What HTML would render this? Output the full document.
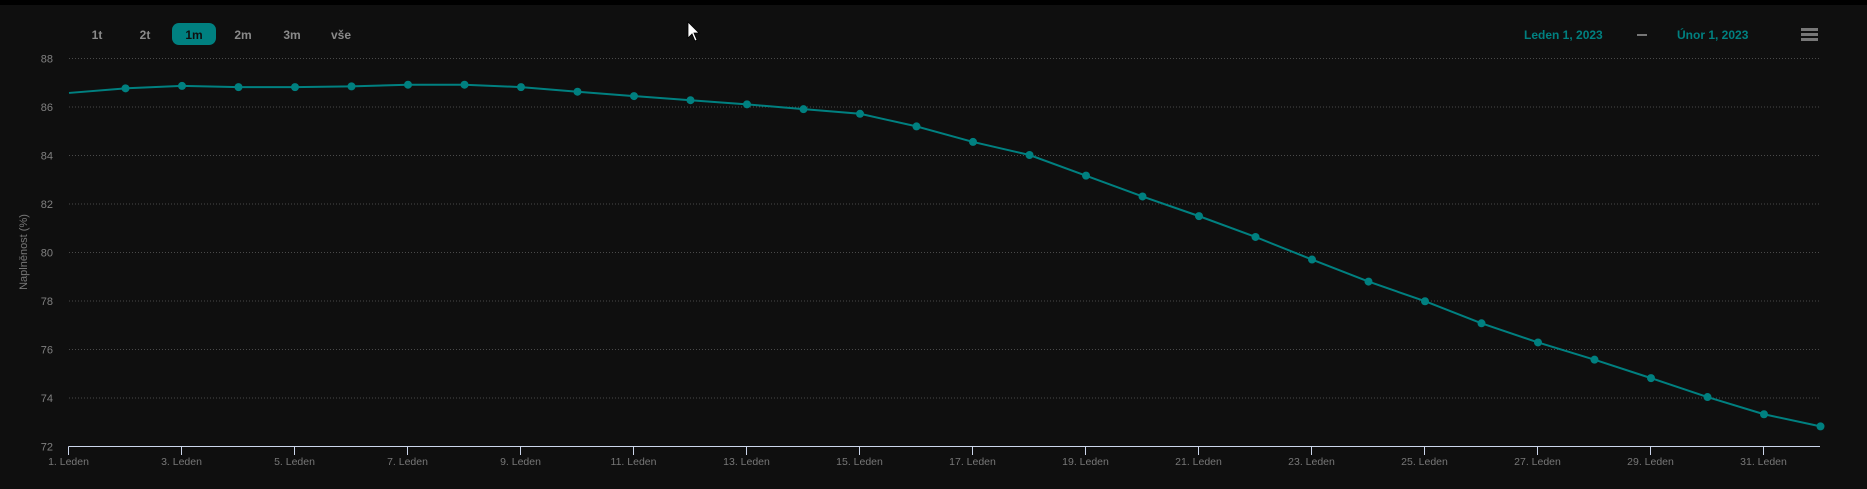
<!DOCTYPE html>
<html><head><meta charset="utf-8"><style>
body{margin:0;background:#0f0f0f;width:1867px;height:489px;overflow:hidden;font-family:"Liberation Sans",sans-serif}
</style></head><body>
<svg id="s" width="1867" height="489" xmlns="http://www.w3.org/2000/svg" style="position:absolute;left:0;top:0">
<rect width="1867" height="489" fill="#0f0f0f"/>
<rect width="1867" height="5" fill="#000"/>
<g font-size="12" font-weight="bold" fill="#8a8a8a" text-anchor="middle" font-family="Liberation Sans,sans-serif">
<text x="97" y="39">1t</text><text x="145" y="39">2t</text>
<rect x="172" y="23" width="44" height="22" rx="7" fill="#008080"/>
<text x="194" y="39" fill="#0f0f0f">1m</text>
<text x="243" y="39">2m</text><text x="292" y="39">3m</text><text x="341" y="39">vše</text>
</g>
<g font-size="12" font-weight="bold" fill="#008080" font-family="Liberation Sans,sans-serif">
<text x="1524" y="39">Leden 1, 2023</text><text x="1677" y="39">Únor 1, 2023</text>
</g>
<line x1="1637" y1="35" x2="1647" y2="35" stroke="#999" stroke-width="1.5"/>
<g fill="#777"><rect x="1801" y="28" width="17" height="3"/><rect x="1801" y="33" width="17" height="3"/><rect x="1801" y="38" width="17" height="3"/></g>
<path d="M688 22 L688 38 L692 34 L695 41 L697 40 L694 33 L699 33 Z" fill="#fff" stroke="#000" stroke-width="0.8"/>
<text transform="translate(27,252) rotate(-90)" font-size="11" fill="#777" text-anchor="middle">Naplněnost (%)</text>
<g id="g"></g>
</svg>
<script>
var g=document.getElementById('g'),h='';
function Y(v){return 446.5-(v-72)*24.25}
for(var v=72;v<=88;v+=2){var y=Y(v);
 if(v>72)h+='<line x1="69" y1="'+y+'" x2="1820" y2="'+y+'" stroke="#4a4a4a" stroke-dasharray="1,2"/>';
 h+='<text x="53" y="'+(y+4)+'" font-size="11" fill="#808080" text-anchor="end">'+v+'</text>';}
h+='<line x1="68.5" y1="446.5" x2="1820" y2="446.5" stroke="#ccd6eb"/>';
for(var d=1;d<=31;d+=2){var x=68.5+(d-1)*56.5;
 h+='<line x1="'+x+'" y1="446.5" x2="'+x+'" y2="455" stroke="#ccd6eb"/>';
 h+='<text x="'+x+'" y="465" font-size="10.5" fill="#777" text-anchor="middle">'+d+'. Leden</text>';}
var vals=[86.58,86.77,86.87,86.82,86.82,86.85,86.92,86.92,86.82,86.63,86.45,86.28,86.11,85.91,85.72,85.2,84.56,84.02,83.17,82.31,81.5,80.64,79.71,78.8,77.99,77.08,76.29,75.58,74.82,74.04,73.33,72.83];
var p='';vals.forEach(function(v,i){p+=(i?'L':'M')+(69+i*56.5)+' '+Y(v)});
h+='<path d="'+p+'" fill="none" stroke="#008080" stroke-width="2"/>';
vals.forEach(function(v,i){if(i)h+='<circle cx="'+(69+i*56.5)+'" cy="'+Y(v)+'" r="4" fill="#008080"/>'});
g.innerHTML=h;
</script>
</body></html>
